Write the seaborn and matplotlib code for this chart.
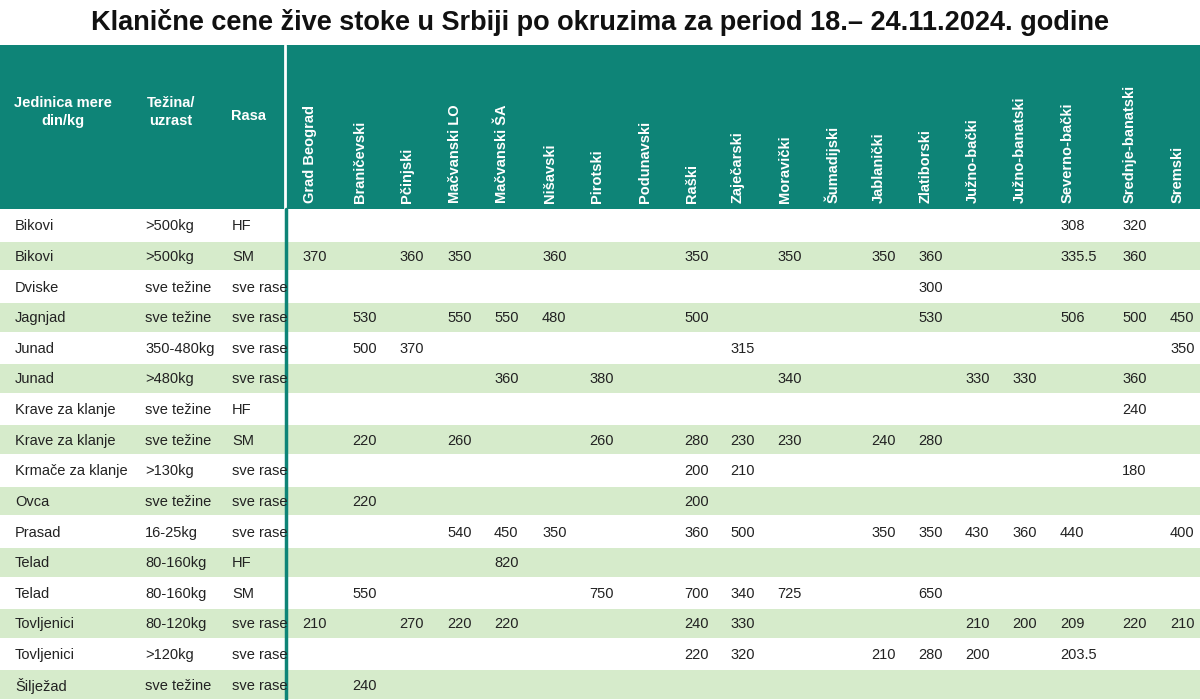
import matplotlib
matplotlib.use("Agg")
import matplotlib.pyplot as plt
import seaborn as sns
import numpy as np

sns.set_style("white")
plt.rcParams['font.family'] = ['Liberation Sans', 'DejaVu Sans']

districts = ["Grad Beograd", "Braničevski", "Pčinjski", "Mačvanski LO", "Mačvanski ŠA",
             "Nišavski", "Pirotski", "Podunavski", "Raški", "Zaječarski", "Moravički",
             "Šumadijski", "Jablanički", "Zlatiborski", "Južno-bački", "Južno-banatski",
             "Severno-bački", "Srednje-banatski", "Sremski"]
col_x = [300, 350, 397, 445, 492, 540, 587, 635, 682, 728, 775, 822, 869, 916, 963, 1010, 1058, 1120, 1168]

animals = ["Bikovi", "Bikovi", "Dviske", "Jagnjad", "Junad", "Junad", "Krave za klanje",
           "Krave za klanje", "Krmače za klanje", "Ovca", "Prasad", "Telad", "Telad",
           "Tovljenici", "Tovljenici", "Šilježad"]
weights = [">500kg", ">500kg", "sve težine", "sve težine", "350-480kg", ">480kg", "sve težine",
           "sve težine", ">130kg", "sve težine", "16-25kg", "80-160kg", "80-160kg",
           "80-120kg", ">120kg", "sve težine"]
breeds = ["HF", "SM", "sve rase", "sve rase", "sve rase", "sve rase", "HF", "SM", "sve rase",
          "sve rase", "sve rase", "HF", "SM", "sve rase", "sve rase", "sve rase"]

prices = [
    {"Severno-bački": "308", "Srednje-banatski": "320"},
    {"Grad Beograd": "370", "Pčinjski": "360", "Mačvanski LO": "350", "Nišavski": "360", "Raški": "350",
     "Moravički": "350", "Jablanički": "350", "Zlatiborski": "360", "Severno-bački": "335.5", "Srednje-banatski": "360"},
    {"Zlatiborski": "300"},
    {"Braničevski": "530", "Mačvanski LO": "550", "Mačvanski ŠA": "550", "Nišavski": "480", "Raški": "500",
     "Zlatiborski": "530", "Severno-bački": "506", "Srednje-banatski": "500", "Sremski": "450"},
    {"Braničevski": "500", "Pčinjski": "370", "Zaječarski": "315", "Sremski": "350"},
    {"Mačvanski ŠA": "360", "Pirotski": "380", "Moravički": "340", "Južno-bački": "330",
     "Južno-banatski": "330", "Srednje-banatski": "360"},
    {"Srednje-banatski": "240"},
    {"Braničevski": "220", "Mačvanski LO": "260", "Pirotski": "260", "Raški": "280", "Zaječarski": "230",
     "Moravički": "230", "Jablanički": "240", "Zlatiborski": "280"},
    {"Raški": "200", "Zaječarski": "210", "Srednje-banatski": "180"},
    {"Braničevski": "220", "Raški": "200"},
    {"Mačvanski LO": "540", "Mačvanski ŠA": "450", "Nišavski": "350", "Raški": "360", "Zaječarski": "500",
     "Jablanički": "350", "Zlatiborski": "350", "Južno-bački": "430", "Južno-banatski": "360",
     "Severno-bački": "440", "Sremski": "400"},
    {"Mačvanski ŠA": "820"},
    {"Braničevski": "550", "Pirotski": "750", "Raški": "700", "Zaječarski": "340", "Moravički": "725",
     "Zlatiborski": "650"},
    {"Grad Beograd": "210", "Pčinjski": "270", "Mačvanski LO": "220", "Mačvanski ŠA": "220", "Raški": "240",
     "Zaječarski": "330", "Južno-bački": "210", "Južno-banatski": "200", "Severno-bački": "209",
     "Srednje-banatski": "220", "Sremski": "210"},
    {"Raški": "220", "Zaječarski": "320", "Jablanički": "210", "Zlatiborski": "280", "Južno-bački": "200",
     "Severno-bački": "203.5"},
    {"Braničevski": "240"},
]

TEAL = "#0e8477"
GREEN = "#d6ebcb"
TXT = "#222222"

fig = plt.figure(figsize=(12, 7), dpi=100)
ax = fig.add_axes([0, 0, 1, 1])
ax.set_xlim(0, 1200)
ax.set_ylim(700, 0)
ax.axis("off")

fig.text(0.5, 1 - 22 / 700, "Klanične cene žive stoke u Srbiji po okruzima za period 18.– 24.11.2024. godine",
         ha="center", va="center", fontsize=19.5, fontweight="bold", color="#111111")

# header
ax.add_patch(plt.Rectangle((0, 45), 1200, 164, color=TEAL, lw=0))
ax.plot([285, 285], [45, 209], color="white", lw=2)
ax.text(63, 112, "Jedinica mere\ndin/kg", ha="center", va="center", color="white",
        fontsize=10.5, fontweight="bold", linespacing=1.3)
ax.text(171, 112, "Težina/\nuzrast", ha="center", va="center", color="white",
        fontsize=10.5, fontweight="bold", linespacing=1.3)
ax.text(248, 116, "Rasa", ha="center", va="center", color="white", fontsize=10.5, fontweight="bold")
for name, x in zip(districts, col_x):
    ax.text(x + 10, 203, name, rotation=90, ha="center", va="bottom", color="white",
            fontsize=10.5, fontweight="bold")

# rows
top = 210
rh = (700 - top) / len(animals)
for i in range(len(animals)):
    y0 = top + i * rh
    if i % 2 == 1:
        ax.add_patch(plt.Rectangle((0, y0 + 1), 1200, rh - 2, color=GREEN, lw=0))
    yc = y0 + rh / 2 + 1
    ax.text(15, yc, animals[i], ha="left", va="center", fontsize=10.5, color=TXT)
    ax.text(145, yc, weights[i], ha="left", va="center", fontsize=10.5, color=TXT)
    ax.text(232, yc, breeds[i], ha="left", va="center", fontsize=10.5, color=TXT)
    for name, x in zip(districts, col_x):
        if name in prices[i]:
            ax.text(x + 2, yc, prices[i][name], ha="left", va="center", fontsize=10.5, color=TXT)

ax.plot([286, 286], [209, 700], color=TEAL, lw=2.5)

fig.savefig("out.png", dpi=100)
